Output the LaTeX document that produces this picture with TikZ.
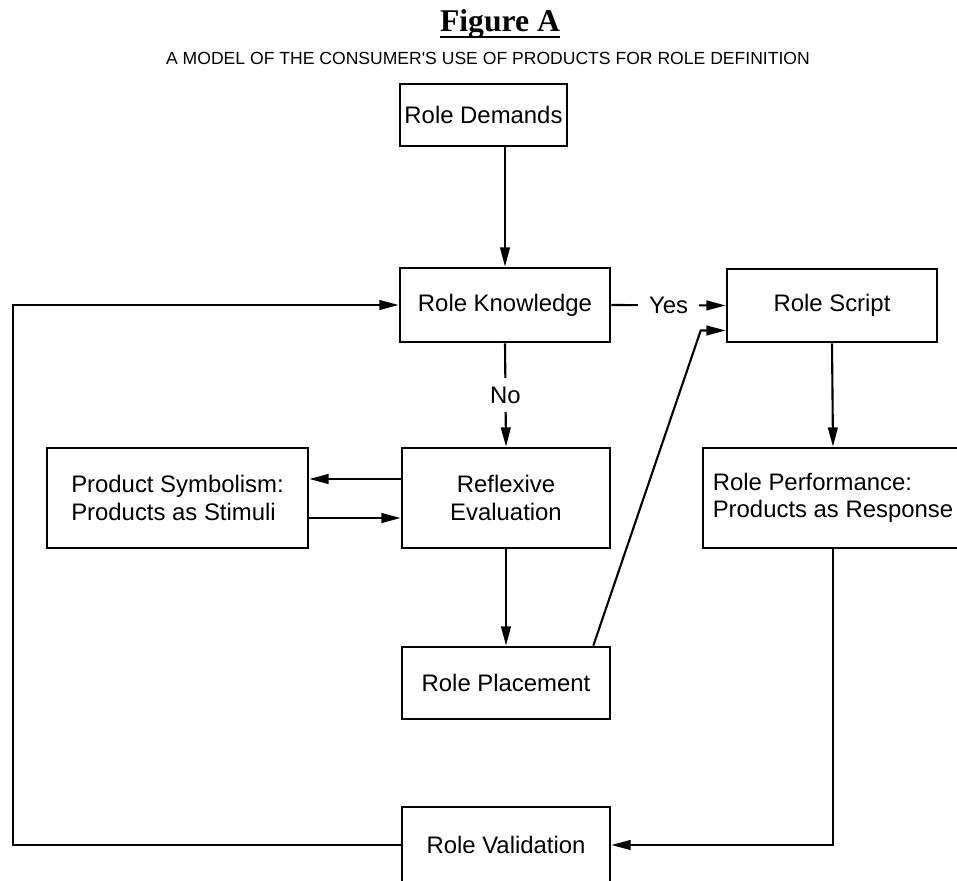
\documentclass[tikz,border=0pt]{standalone}
\usepackage{fontspec}
\setmainfont{Liberation Sans}
\newfontfamily\titlefont{Liberation Serif}
\usepackage{tikz}
\usetikzlibrary{arrows.meta,positioning,calc}

\begin{document}
\begin{tikzpicture}[
    x=0.02cm,
    y=-0.02cm,
    font=\fontsize{13.6}{15.5}\selectfont,
    >={Triangle[length=11pt,width=5.5pt]},
    stage/.style={
        draw,
        line width=1.5pt,
        align=center,
        inner sep=0pt
    },
    flow/.style={
        ->,
        line width=1.2pt
    },
    edgeLabel/.style={
        fill=white,
        inner xsep=6pt,
        inner ysep=5pt
    }
]

\useasboundingbox (0,0) rectangle (957,881);
\clip (0,0) rectangle (957,881);

% Headings
\node[anchor=base, inner sep=0pt, font=\titlefont\bfseries\fontsize{18}{20}\selectfont] (title) at (500,32) {Figure A};
\draw[line width=1.6pt] ($(title.base west)+(0,5)$) -- ($(title.base east)+(0,5)$);
\node[anchor=base, font=\fontsize{10}{12}\selectfont] (subtitle) at (488,65)
    {A MODEL OF THE CONSUMER\textquotesingle S USE OF PRODUCTS FOR ROLE DEFINITION};

% Centre column
\node[stage, minimum width=3.34cm, minimum height=1.24cm] (demands) at (483.5,115) {Role Demands};
\node[stage, minimum width=4.2cm, minimum height=1.48cm] (knowledge) at (505,305) {Role Knowledge};
\node[stage, minimum width=4.16cm, minimum height=2cm] (reflexive) at (506,498) {Reflexive\\Evaluation};
\node[stage, minimum width=4.16cm, minimum height=1.44cm] (placement) at (506,683) {Role Placement};
\node[stage, minimum width=4.16cm, minimum height=1.52cm] (validation) at (506,845) {Role Validation};

% Left column
\node[stage, align=left, minimum width=5.22cm, minimum height=2cm] (symbolism) at (177.5,498)
    {Product Symbolism:\\Products as Stimuli};

% Right column
\node[stage, minimum width=4.2cm, minimum height=1.46cm] (script) at (832,305.5) {Role Script};
\node[stage, align=left, minimum width=5.2cm, minimum height=2cm] (performance) at (833,498)
    {Role Performance:\\Products as Response};

% Main chain
\draw[flow] (knowledge.north |- demands.south) -- (knowledge.north);

\draw[flow]
    (knowledge.east)
    --
    node[edgeLabel] {Yes}
    (script.west);

\draw[flow]
    (knowledge.south)
    --
    node[edgeLabel] {No}
    (reflexive.north);

\draw[flow] (reflexive.south) -- (placement.north);
\draw[flow] (script.south) -- (performance.north);

% Exchange with product symbolism
\draw[flow] ($(reflexive.west)+(0,-19)$) -- ($(symbolism.east)+(0,-19)$);
\draw[flow] ($(symbolism.east)+(0,20)$) -- ($(reflexive.west)+(0,20)$);

% Placement back up to the script
\coordinate (placementBend) at ($(script.west)+(-25,25)$);

\draw[flow]
    ($(placement.north east)+(-18,0)$)
    --
    (placementBend)
    --
    ($(script.west)+(0,25)$);

% Performance down to validation
\draw[flow] (performance.south) |- (validation.east);

% Validation back to knowledge, routed outside the left edge
\coordinate (loopTop) at (13,305);

\draw[flow]
    (validation.west)
    -|
    (loopTop)
    --
    (knowledge.west);

\end{tikzpicture}
\end{document}
